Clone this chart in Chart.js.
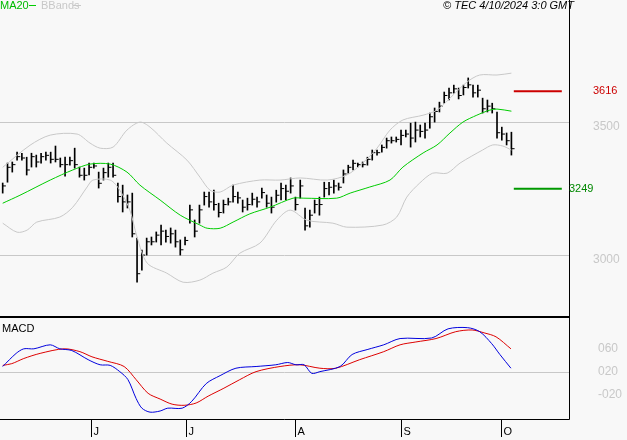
<!DOCTYPE html>
<html>
<head>
<meta charset="utf-8">
<script src="https://cdn.jsdelivr.net/npm/chart.js@4"></script>
<style>
body{margin:0;background:#f8f8f8;width:627px;height:440px;overflow:hidden;position:relative;font-family:"Liberation Sans",Arial,sans-serif}
#top{position:absolute;left:0;top:0}
#bot{position:absolute;left:0;top:316px}
</style>
</head>
<body>
<canvas id="top" width="627" height="318"></canvas>
<canvas id="bot" width="627" height="124"></canvas>
<script>
// daily bars, index 0 = first bar
let lows=[3233,3274,3312,3357,3357,3301,3331,3331,3346,3357,3346,3350,3331,3297,3338,3327,3293,3282,3301,3327,3252,3282,3293,3293,3199,3162,3177,3068,2898,2943,3000,3038,3049,3038,3049,3045,3030,3000,3038,3120,3068,3120,3188,3180,3169,3143,3158,3188,3199,3195,3162,3169,3188,3180,3214,3180,3158,3199,3207,3207,3233,3169,3214,3094,3105,3158,3150,3218,3226,3233,3244,3271,3308,3320,3331,3331,3338,3357,3376,3387,3402,3421,3425,3414,3444,3406,3425,3444,3440,3477,3500,3538,3571,3583,3609,3587,3602,3628,3594,3594,3534,3538,3534,3440,3432,3414,3376]
let highs=[3271,3346,3350,3387,3383,3368,3383,3376,3383,3387,3387,3410,3365,3368,3368,3402,3331,3327,3346,3346,3312,3327,3346,3346,3271,3263,3226,3233,3064,3019,3064,3068,3087,3113,3094,3102,3094,3057,3068,3188,3132,3188,3237,3237,3244,3195,3207,3214,3263,3237,3207,3214,3233,3218,3252,3226,3218,3244,3271,3263,3290,3218,3282,3177,3169,3207,3218,3274,3274,3282,3271,3320,3338,3357,3346,3350,3368,3395,3395,3414,3440,3444,3444,3470,3470,3496,3500,3489,3496,3534,3553,3575,3613,3628,3639,3628,3639,3666,3639,3639,3590,3583,3571,3538,3481,3459,3462]
let closes=[3260,3330,3340,3370,3365,3320,3370,3350,3370,3375,3360,3360,3340,3340,3355,3340,3300,3300,3330,3335,3270,3310,3330,3300,3220,3200,3200,3080,2930,3000,3050,3050,3075,3090,3070,3080,3050,3020,3055,3170,3090,3170,3220,3200,3190,3160,3190,3200,3220,3215,3180,3190,3210,3200,3235,3195,3180,3225,3250,3240,3260,3190,3260,3110,3150,3190,3190,3250,3255,3260,3255,3305,3330,3345,3340,3340,3360,3385,3385,3405,3430,3430,3435,3450,3455,3440,3470,3465,3470,3520,3540,3560,3600,3610,3625,3600,3630,3640,3610,3620,3550,3560,3550,3460,3455,3430,3400]

// moving average and bollinger bands [bar index, price]
let ma20=[[0,3195],[3.6,3225],[9.9,3282],[14.6,3320],[18.2,3342],[22.4,3342],[25.9,3312],[28.6,3263],[32.8,3207],[37,3150],[41.1,3113],[42.6,3101],[45.3,3101],[48,3124],[51.5,3155],[55.7,3180],[60.5,3214],[62.6,3214],[69.6,3214],[72.4,3233],[76.5,3256],[80.7,3282],[83.4,3331],[87.6,3384],[90.5,3414],[93.2,3459],[95.9,3500],[98.8,3526],[101.5,3545],[103,3549],[106,3541]]
let bbUpper=[[0,3330],[5.7,3413],[9.9,3451],[15.5,3455],[18.2,3421],[20.3,3402],[23,3406],[25.9,3470],[28.6,3500],[30.7,3481],[34.2,3421],[38.4,3357],[41.1,3293],[43.2,3244],[45.3,3237],[48,3263],[53.6,3282],[57.8,3282],[62,3290],[67.6,3282],[71.7,3301],[75,3346],[78,3402],[80.7,3470],[83.4,3508],[87.6,3526],[90.5,3545],[93.2,3590],[96.7,3650],[99.4,3677],[103,3677],[106,3684]]
let bbLower=[[0,3120],[3,3086],[5.1,3094],[7.1,3124],[11.9,3143],[14.6,3180],[17.6,3256],[18.8,3282],[22.4,3282],[24.4,3244],[26.5,3169],[28,3068],[30.1,2970],[34.2,2932],[37.6,2898],[41.1,2906],[43.8,2932],[46.7,2955],[49.4,3007],[53.6,3045],[57.1,3131],[59.9,3169],[63.4,3131],[68.8,3120],[71.7,3105],[79.2,3113],[82.1,3143],[84.2,3218],[86.9,3271],[89.6,3308],[92.6,3308],[95.3,3346],[100,3395],[102.1,3414],[104.2,3410],[106,3395]]

let resistance=3616
let support=3249
let levelFrom=106.5, levelTo=116.5

// MACD [bar index, value]
let macdLine=[[0,0.2],[2.8,0.43],[4.4,0.51],[6.5,0.51],[9.9,0.58],[11.9,0.51],[14.4,0.48],[17.8,0.32],[20.3,0.23],[22.4,0.22],[24.4,0.11],[26.1,-0.03],[27.8,-0.36],[29,-0.53],[30.7,-0.6],[32.8,-0.58],[34.4,-0.53],[37.4,-0.53],[39.4,-0.41],[42.4,-0.1],[45.3,0.04],[48.6,0.17],[52.8,0.2],[56.9,0.23],[59.4,0.27],[61.1,0.23],[62.8,0.23],[64.4,0.08],[66.1,0.11],[70.3,0.2],[72.8,0.41],[76.1,0.5],[79.4,0.58],[82.8,0.69],[89.4,0.7],[92.8,0.86],[96.9,0.88],[99.4,0.81],[101.9,0.6],[103.6,0.41],[105.9,0.17]]
let signalLine=[[0,0.22],[1.9,0.25],[4.4,0.34],[7.8,0.43],[12.8,0.51],[16.1,0.46],[18.6,0.37],[21.9,0.29],[25.3,0.2],[27.8,-0.03],[30.3,-0.27],[32.8,-0.37],[35.3,-0.46],[37.8,-0.48],[40.3,-0.44],[42.8,-0.32],[46.1,-0.18],[49.4,-0.03],[52.8,0.11],[57.8,0.2],[61.9,0.23],[66.1,0.17],[69.4,0.17],[74.4,0.32],[79.4,0.46],[82.8,0.58],[86.1,0.63],[90.3,0.69],[94.4,0.81],[97.8,0.84],[100.3,0.79],[102.8,0.72],[105.9,0.51]]

let monthLabels=["J","J","A","S","O"]
let monthAt=[18.4,38.2,60.9,83,103.8]
let priceTicks=[3000,3500]
let macdTicks=[0.6,0.2,-0.2]
let macdGrid=0.1

const XMIN=-0.56, XMAX=118
const pts=a=>a.map(p=>({x:p[0],y:p[1]}))
const fixWidth=w=>function(s){s.width=w}

Chart.defaults.font.family='"Liberation Sans",Arial,sans-serif'
Chart.defaults.font.size=11

// right-side tick labels drawn from the y scale
function axisLabels(ctx,scale,ticks,fmt,x){
ctx.fillStyle="#c8c8c8";ctx.font="12px \"Liberation Sans\"";ctx.textBaseline="middle";ctx.textAlign="left"
ticks.forEach(v=>ctx.fillText(fmt(v),x,scale.getPixelForValue(v)+5))
}

let topDecor={
id:"topDecor",
afterDraw(c){
let ctx=c.ctx, y=c.scales.y, a=c.chartArea
ctx.save()
ctx.strokeStyle="#000";ctx.lineWidth=1
ctx.beginPath();ctx.moveTo(a.right+0.5,0);ctx.lineTo(a.right+0.5,a.bottom);ctx.stroke()
ctx.lineWidth=2
ctx.beginPath();ctx.moveTo(0,a.bottom+1);ctx.lineTo(a.right+1,a.bottom+1);ctx.stroke()
axisLabels(ctx,y,priceTicks,v=>String(v),593)
ctx.font="11px \"Liberation Sans\"";ctx.textBaseline="middle"
ctx.fillStyle="#cc0000";ctx.fillText(String(resistance),593,y.getPixelForValue(resistance))
ctx.fillStyle="#008800";ctx.fillText(String(support),569,y.getPixelForValue(support))
ctx.textBaseline="top"
ctx.fillStyle="#00bb00";ctx.fillText("MA20",0,0)
ctx.strokeStyle="#00cc00";ctx.lineWidth=1
ctx.beginPath();ctx.moveTo(29,5.5);ctx.lineTo(36,5.5);ctx.stroke()
ctx.fillStyle="#c8c8c8";ctx.fillText("BBands",41,0)
ctx.strokeStyle="#c8c8c8"
ctx.beginPath();ctx.moveTo(73,5.5);ctx.lineTo(81,5.5);ctx.stroke()
ctx.fillStyle="#000";ctx.font="italic 11px \"Liberation Sans\"";ctx.textAlign="right"
ctx.fillText("© TEC 4/10/2024 3:0 GMT",574,0)
ctx.restore()
}
}

new Chart(document.getElementById("top"),{
type:"bar",
data:{datasets:[
{type:"line",data:pts(bbUpper),borderColor:"#c8c8c8",borderWidth:1,pointRadius:0,tension:0.3},
{type:"line",data:pts(bbLower),borderColor:"#c8c8c8",borderWidth:1,pointRadius:0,tension:0.3},
{type:"line",data:pts(ma20),borderColor:"#00cc00",borderWidth:1,pointRadius:0,tension:0.3},
{type:"bar",data:lows.map((l,i)=>({x:i,y:[l,highs[i]]})),backgroundColor:"#000",barThickness:1,grouped:false},
{type:"scatter",data:closes.map((c,i)=>({x:i+0.35,y:c})),pointStyle:"line",radius:1.5,borderColor:"#000",borderWidth:1},
{type:"line",data:[{x:levelFrom,y:resistance},{x:levelTo,y:resistance}],borderColor:"#cc0000",borderWidth:2,pointRadius:0},
{type:"line",data:[{x:levelFrom,y:support},{x:levelTo,y:support}],borderColor:"#009900",borderWidth:2,pointRadius:0}
]},
options:{
animation:false,responsive:false,
layout:{autoPadding:false,padding:{left:0,right:0,top:0,bottom:2}},
plugins:{legend:{display:false},tooltip:{enabled:false}},
scales:{
x:{type:"linear",min:XMIN,max:XMAX,offset:false,display:false},
y:{position:"right",min:2771,max:3959,afterFit:fixWidth(58),
afterBuildTicks(s){s.ticks=priceTicks.map(v=>({value:v}))},
grid:{color:"#c8c8c8",drawTicks:false},border:{display:false},
ticks:{display:false}}
}
},
plugins:[topDecor]
})

let botDecor={
id:"botDecor",
afterDraw(c){
let ctx=c.ctx, x=c.scales.x, a=c.chartArea
ctx.save()
ctx.strokeStyle="#000";ctx.lineWidth=1
ctx.beginPath();ctx.moveTo(a.right+0.5,0);ctx.lineTo(a.right+0.5,a.bottom+0.5);ctx.lineTo(0,a.bottom+0.5);ctx.stroke()
axisLabels(ctx,c.scales.y,macdTicks,v=>v.toFixed(2).replace("-0.","-0").replace(/^0\./,"0"),598)
ctx.font="11px \"Liberation Sans\"";ctx.fillStyle="#000";ctx.textBaseline="top"
ctx.fillText("MACD",2,7)
monthLabels.forEach((m,i)=>{
let px=Math.round(x.getPixelForValue(monthAt[i]))+0.5
ctx.beginPath();ctx.moveTo(px,a.bottom);ctx.lineTo(px,a.bottom+18);ctx.stroke()
ctx.fillText(m,px+2,a.bottom+7)
})
ctx.restore()
}
}

new Chart(document.getElementById("bot"),{
type:"line",
data:{datasets:[
{data:pts(macdLine),borderColor:"#0000dd",borderWidth:1,pointRadius:0,tension:0.3},
{data:pts(signalLine),borderColor:"#dd0000",borderWidth:1,pointRadius:0,tension:0.3}
]},
options:{
animation:false,responsive:false,
layout:{autoPadding:false,padding:{left:0,right:0,top:2,bottom:21}},
plugins:{legend:{display:false},tooltip:{enabled:false}},
scales:{
x:{type:"linear",min:XMIN,max:XMAX,display:false},
y:{position:"right",min:-0.72,max:1.05,afterFit:fixWidth(58),
afterBuildTicks(s){s.ticks=[{value:macdGrid}]},
grid:{color:"#c8c8c8",drawTicks:false},border:{display:false},
ticks:{display:false}}
}
},
plugins:[botDecor]
})
</script>
</body>
</html>
